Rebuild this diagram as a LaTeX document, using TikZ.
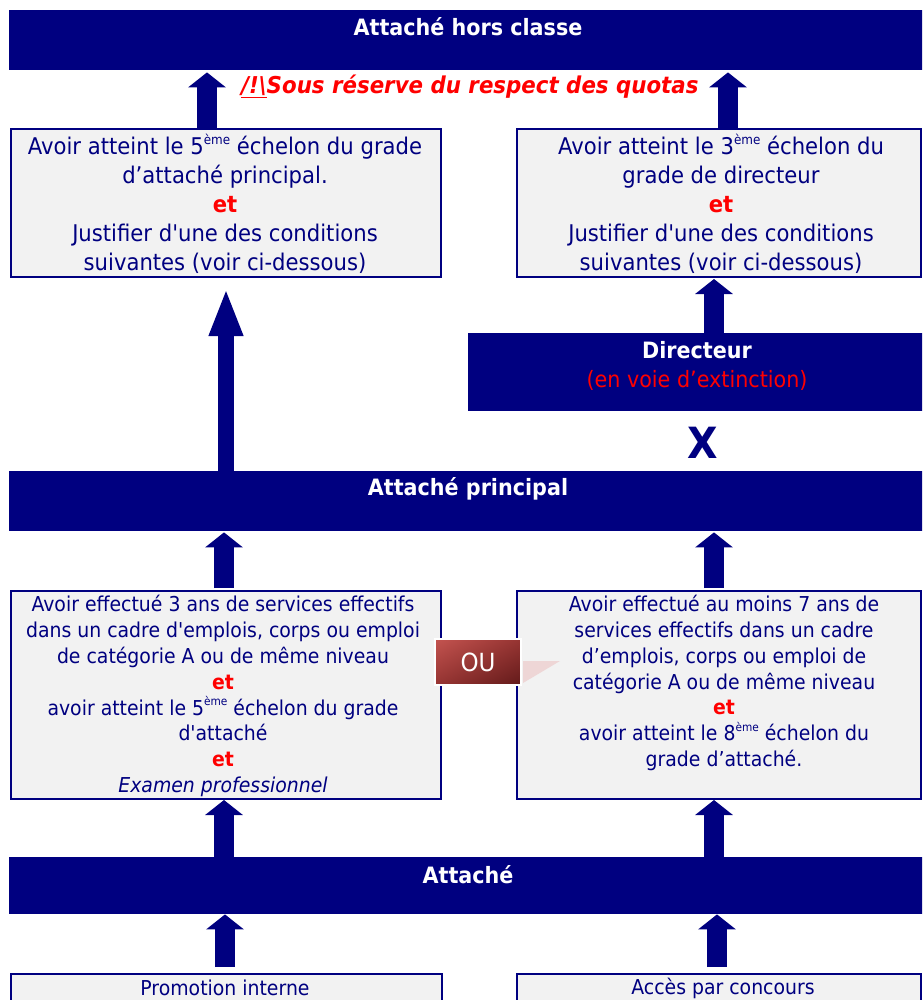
\documentclass[tikz,border=0pt]{standalone}
\usepackage{fontspec}
\setmainfont{DejaVu Sans}[FakeStretch=0.92, Ligatures=TeXOff]
\usetikzlibrary{arrows.meta,shadings}

\definecolor{navy}{RGB}{0,0,128}
\definecolor{cardfill}{RGB}{242,242,242}
\definecolor{alert}{RGB}{255,0,0}
\definecolor{oulight}{RGB}{196,84,80}
\definecolor{oumid}{RGB}{150,52,50}
\definecolor{oudark}{RGB}{98,26,26}
\definecolor{tailpink}{RGB}{238,214,214}

% font size / baseline shortcut and small ordinal suffix
\newcommand{\fsz}[2]{\fontsize{#1}{#2}\selectfont}
\newcommand{\ordsup}[2][11]{\raisebox{0.46em}{\fontsize{#1}{#1}\selectfont #2}}
\newcommand{\etred}{{\bfseries\color{alert}et}}

\begin{document}
\begin{tikzpicture}[x=1pt,y=-1pt,
  banner/.style={fill=navy, draw=none, inner sep=0pt, anchor=north west},
  card/.style={fill=cardfill, draw=navy, line width=2pt, inner sep=0pt, anchor=north west},
  title/.style={text=white, font=\bfseries\fsz{22.5}{26}, inner sep=0pt},
  body/.style={text=navy, align=center, inner sep=0pt},
  blk/.style={draw=navy, line width=20pt, -{Triangle[width=37pt,length=15pt]}},
  bigblk/.style={draw=navy, line width=16pt, -{Triangle[width=31pt,length=48pt]}},
]
\useasboundingbox (0,0) rectangle (922,1000);
\clip (0,0) rectangle (922,1000);
\fill[white] (0,0) rectangle (922,1000);

% lanes for the vertical block arrows
\coordinate (laneA) at (207,0);
\coordinate (laneB) at (728,0);
\coordinate (laneC) at (226,0);
\coordinate (laneD) at (714,0);
\coordinate (laneE) at (224,0);
\coordinate (laneF) at (714,0);
\coordinate (laneG) at (225,0);
\coordinate (laneH) at (717,0);

% grade banners
\node[banner, minimum width=925pt, minimum height=60pt] (hc) at (9,10) {};
\node[title] (hctxt) at (468,27) {Attaché hors classe};
\node[banner, minimum width=925pt, minimum height=60pt] (ap) at (9,471) {};
\node[title] (aptxt) at (468,489) {Attaché principal};
\node[banner, minimum width=925pt, minimum height=57pt] (att) at (9,857) {};
\node[title] (atttxt) at (468,875) {Attaché};
\node[banner, minimum width=470pt, minimum height=78pt] (dir) at (468,333) {};
\node[body, text=white, font=\fsz{22.5}{29}] (dirtxt) at (697,366)
  {\bfseries Directeur\\ \color{alert}(en voie d’extinction)};
\node[text=navy, font=\bfseries\fsz{43}{43}, inner sep=0pt] (xmark) at (703,443) {X};

% quota notice
\node[text=alert, font=\bfseries\itshape\fsz{23.2}{28}, inner sep=0pt] (quota) at (470,87)
  {\underline{/!\textbackslash}Sous réserve du respect des quotas};

% condition cards
\node[card, minimum width=430pt, minimum height=148pt] (L1) at (10,128) {};
\node[body, font=\fsz{23}{29}] (L1txt) at (225,204)
  {Avoir atteint le 5\ordsup[13]{ème} échelon du grade\\
   d’attaché principal.\\ \etred\\
   Justifier d'une des conditions\\ suivantes (voir ci-dessous)};
\node[card, minimum width=404pt, minimum height=148pt] (R1) at (516,128) {};
\node[body, font=\fsz{23}{29}] (R1txt) at (721,204)
  {Avoir atteint le 3\ordsup[13]{ème} échelon du\\
   grade de directeur\\ \etred\\
   Justifier d'une des conditions\\ suivantes (voir ci-dessous)};

\node[card, minimum width=430pt, minimum height=208pt] (L2) at (10,590) {};
\node[body, font=\fsz{20.5}{25.9}] (L2txt) at (223,696)
  {Avoir effectué 3 ans de services effectifs\\
   dans un cadre d'emplois, corps ou emploi\\
   de catégorie A ou de même niveau\\ \etred\\
   avoir atteint le 5\ordsup[11.5]{ème} échelon du grade\\
   d'attaché\\ \etred\\ \textit{Examen professionnel}};
\node[card, minimum width=404pt, minimum height=208pt] (R2) at (516,590) {};
\fill[tailpink] (523,661) -- (560,661) -- (523,683) -- cycle;
\node[body, font=\fsz{20.5}{25.8}] (R2txt) at (724,683)
  {Avoir effectué au moins 7 ans de\\
   services effectifs dans un cadre\\
   d’emplois, corps ou emploi de\\
   catégorie A ou de même niveau\\ \etred\\
   avoir atteint le 8\ordsup[11.5]{ème} échelon du\\
   grade d’attaché.};

% access routes
\node[card, minimum width=431pt, minimum height=45pt] (pi) at (10,973) {};
\node[body, font=\fsz{20.5}{24}] (pitxt) at (225,988) {Promotion interne};
\node[card, minimum width=404pt, minimum height=45pt] (ac) at (516,973) {};
\node[body, font=\fsz{20.5}{24}] (actxt) at (723,988) {Accès par concours};

% block arrows
\draw[blk, shorten <=6pt] (pi.north -| laneG) -- (att.south -| laneG);
\draw[blk, shorten <=6pt] (ac.north -| laneH) -- (att.south -| laneH);
\draw[blk] (att.north -| laneE) -- (L2.south -| laneE);
\draw[blk] (att.north -| laneF) -- (R2.south -| laneF);
\draw[blk, shorten <=2pt, shorten >=1pt] (L2.north -| laneE) -- (ap.south -| laneE);
\draw[blk, shorten <=2pt, shorten >=1pt] (R2.north -| laneF) -- (ap.south -| laneF);
\draw[bigblk, shorten >=10pt] (ap.north -| laneC) -- (L1.south -| laneC);
\draw[blk, shorten >=1pt] (dir.north -| laneD) -- (R1.south -| laneD);
\draw[blk, shorten >=2pt] (L1.north -| laneA) -- (hc.south -| laneA);
\draw[blk, shorten >=2pt] (R1.north -| laneB) -- (hc.south -| laneB);

% "or" tag between the two promotion paths
\node[draw=white, line width=1.5pt, minimum width=86pt, minimum height=46pt, inner sep=0pt,
      upper left=oulight, upper right=oumid, lower left=oumid, lower right=oudark,
      text=white, font=\fsz{25}{28}] (ou) at (478,662) {OU};
\end{tikzpicture}
\end{document}
